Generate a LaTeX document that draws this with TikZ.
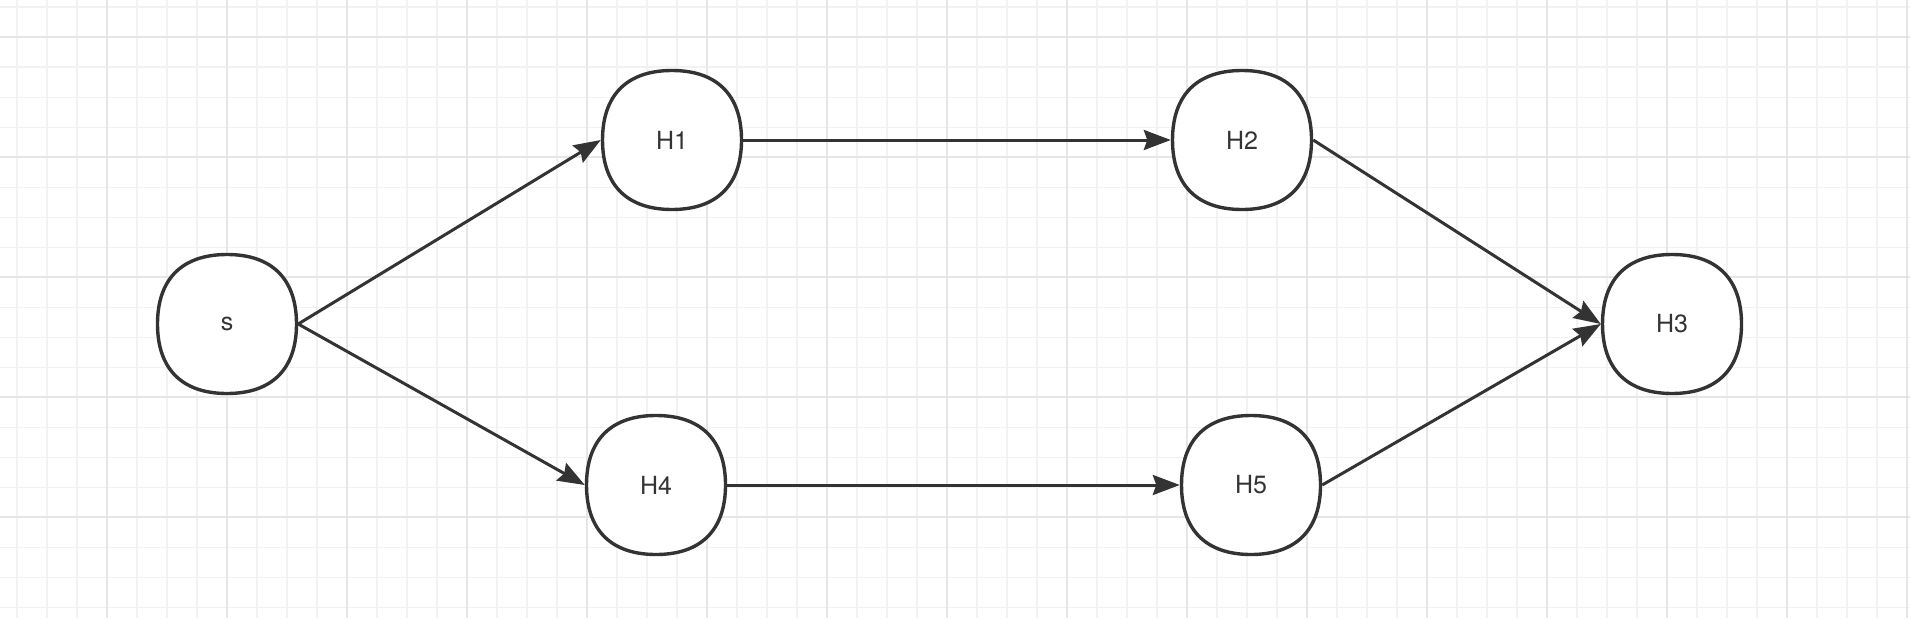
\documentclass[tikz,border=0pt]{standalone}
\usepackage{fontspec}
\setmainfont{TeX Gyre Heros}
\usetikzlibrary{arrows.meta}
\definecolor{ink}{HTML}{333333}
\definecolor{gridminor}{HTML}{F2F2F2}
\definecolor{gridmajor}{HTML}{E6E6E6}
\pgfdeclarelayer{bg}
\pgfdeclarelayer{mid}
\pgfsetlayers{bg,mid,main}
\tikzset{
  state/.style={circle, draw=none, line width=3.4pt, minimum size=139pt, inner sep=0pt, font=\fontsize{25pt}{30pt}\selectfont, text=ink},
  outline/.style={draw=ink, line width=3.4pt, fill=white},
  link/.style={draw=ink, line width=3pt, -{Stealth[length=27pt, width=20pt, inset=3.5pt]}},
  minorline/.style={draw=gridminor, line width=1.6pt},
  majorline/.style={draw=gridmajor, line width=1.8pt}
}
\begin{document}
\begin{tikzpicture}[x=1pt, y=-1pt]
\useasboundingbox (0,0) rectangle (1910,618);
\begin{pgfonlayer}{bg}
\fill[white] (0,0) rectangle (1910,618);
\foreach \k in {0,...,63} {
  \draw[minorline] ({16.7+30*\k},0) -- ({16.7+30*\k},618);
}
\foreach \k in {0,...,20} {
  \draw[minorline] (0,{7.3+30*\k}) -- (1910,{7.3+30*\k});
}
\foreach \k in {0,...,15} {
  \draw[majorline] ({106.7+120*\k},0) -- ({106.7+120*\k},618);
}
\foreach \k in {0,...,5} {
  \draw[majorline] (0,{37.3+120*\k}) -- (1910,{37.3+120*\k});
}
\end{pgfonlayer}
% nodes
\node[state] (s)  at (227,324) {s};
\node[state] (h1) at (672,140) {H1};
\node[state] (h2) at (1242,140) {H2};
\node[state] (h3) at (1672,324) {H3};
\node[state] (h4) at (656,485) {H4};
\node[state] (h5) at (1251,485) {H5};
% node outlines (slightly squarish circles)
\begin{pgfonlayer}{mid}
\foreach \n in {s,h1,h2,h3,h4,h5} {
  \draw[outline, shift={(\n.center)}] (69.5,0) .. controls (69.5,45) and (45,69.5) .. (0,69.5)
    .. controls (-45,69.5) and (-69.5,45) .. (-69.5,0)
    .. controls (-69.5,-45) and (-45,-69.5) .. (0,-69.5)
    .. controls (45,-69.5) and (69.5,-45) .. cycle;
}
\end{pgfonlayer}
% edges
\draw[link] (s.east) -- (h1.west);
\draw[link] (s.east) -- (h4.west);
\draw[link] (h1.east) -- (h2.west);
\draw[link] (h4.east) -- (h5.west);
\draw[link] (h2.east) -- (h3.west);
\draw[link] (h5.east) -- (h3.west);
\end{tikzpicture}
\end{document}
